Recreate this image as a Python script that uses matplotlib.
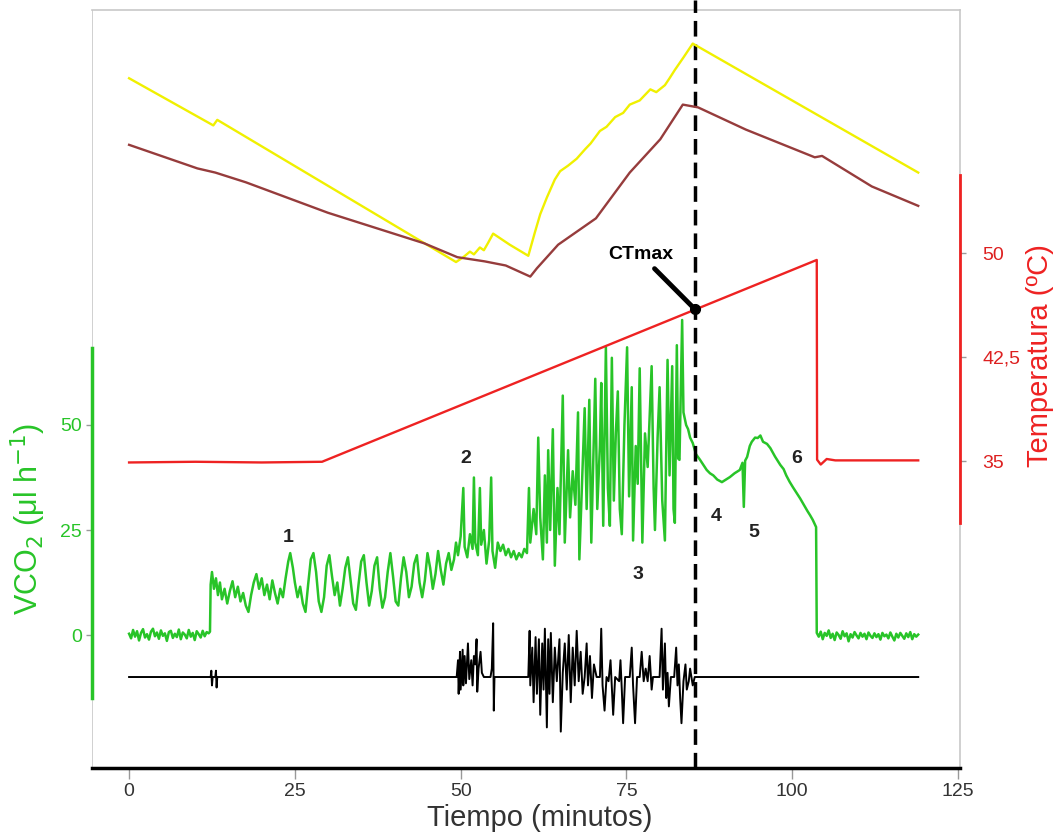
import matplotlib
matplotlib.use('Agg')
import matplotlib.pyplot as plt

plt.rcParams['font.family'] = ['Liberation Sans', 'DejaVu Sans']

# --- VCO2 trace (µl/h) ---
vco2_t = [0.0, 0.3, 0.6, 0.9, 1.2, 1.5, 1.8, 2.1, 2.4, 2.7, 3.0, 3.3, 3.6, 3.9, 4.2, 4.5, 4.8, 5.1,
          5.4, 5.7, 6.0, 6.3, 6.6, 6.9, 7.2, 7.5, 7.8, 8.1, 8.4, 8.7, 9.0, 9.3, 9.6, 9.9, 10.2, 10.5,
          10.8, 11.1, 11.4, 11.7, 12.0, 12.2,
          12.3, 12.5, 12.8, 13.1, 13.4, 13.7, 14.0, 14.4, 14.8, 15.2, 15.6, 16.0, 16.4, 16.8, 17.2,
          17.6, 18.0, 18.4, 18.8, 19.2, 19.6, 20.0, 20.4, 20.8, 21.2, 21.6, 22.0, 22.4, 22.8, 23.2,
          23.6, 24.0, 24.3, 24.7, 25.0, 25.4, 25.8, 26.2, 26.6, 27.0, 27.4, 27.8, 28.2, 28.6, 29.0,
          29.4, 29.8, 30.2, 30.6, 31.0, 31.4, 31.8, 32.2, 32.6, 33.0, 33.4, 33.8, 34.2, 34.6, 35.0,
          35.4, 35.8, 36.2, 36.6, 37.0, 37.4, 37.8, 38.2, 38.6, 39.0, 39.4, 39.8, 40.2, 40.6, 41.0,
          41.4, 41.8, 42.2, 42.6, 43.0, 43.4, 43.8, 44.2, 44.6, 45.0, 45.4, 45.8, 46.2, 46.6, 47.0,
          47.4, 47.8, 48.2, 48.6, 49.0, 49.3, 49.6, 50.0, 50.4, 50.6, 51.0, 51.4, 51.8, 52.0, 52.2,
          52.6, 52.9, 53.1, 53.5, 53.9, 54.3, 54.6, 54.8, 55.2, 55.6, 56.0, 56.4, 56.8, 57.2, 57.6,
          58.0, 58.4, 58.8, 59.2, 59.6, 60.0, 60.3, 60.5, 61.0, 61.4, 61.7, 62.0, 62.4, 62.7, 63.0,
          63.2, 63.5, 63.9, 64.2, 64.6, 64.9, 65.4, 65.7, 66.2, 66.5, 66.9, 67.3, 67.7, 67.9, 68.3,
          68.7, 69.0, 69.4, 69.7, 70.0, 70.3, 70.6, 71.0, 71.2, 71.5, 71.9, 72.2, 72.5, 72.8, 73.1,
          73.4, 73.7, 74.0, 74.3, 74.7, 75.1, 75.4, 75.8, 76.0, 76.4, 76.7, 77.0, 77.4, 77.8, 78.2,
          78.5, 78.8, 79.1, 79.3, 79.7, 80.0, 80.4, 80.8, 81.2, 81.5, 81.9, 82.1, 82.3, 82.6, 82.8,
          83.0, 83.4, 83.6, 84.0, 84.3, 84.6, 85.0, 85.5, 86.1, 86.6, 87.1, 87.6, 88.1, 88.7, 89.4,
          90.0, 90.6, 91.3, 92.1, 92.5, 92.7, 92.9, 93.2, 93.6, 93.9, 94.4, 94.8, 95.2, 95.6, 96.2,
          96.7, 97.4, 98.2, 98.7, 99.1, 99.6, 100.1, 100.8, 101.2, 101.6, 102.3, 102.7, 103.1, 103.6,
          103.7, 104.0, 104.3, 104.6, 104.9, 105.2, 105.5, 105.8, 106.1, 106.4, 106.7, 107.0, 107.3,
          107.6, 107.9, 108.2, 108.5, 108.8, 109.1, 109.4, 109.7, 110.0, 110.3, 110.6, 110.9, 111.2,
          111.5, 111.8, 112.1, 112.4, 112.7, 113.0, 113.3, 113.6, 113.9, 114.2, 114.5, 114.8, 115.1,
          115.4, 115.7, 116.0, 116.3, 116.6, 116.9, 117.2, 117.5, 117.8, 118.1, 118.4, 118.7, 119.0]
vco2_v = [0.3, -0.8, 1.2, -0.4, 0.9, -1.3, 0.5, 1.4, -0.6, 0.2, -1.1, 0.8, 1.5, -0.3, 0.6, -0.9, 1.1, -0.2,
          0.4, -1.4, 0.7, 1.0, -0.7, 0.3, -0.5, 1.3, -1.0, 0.6, 0.1, -0.8, 1.2, -0.4, 0.5, -1.2, 0.9, 0.2,
          -0.6, 1.0, -0.3, 0.7, 0.4, 0.8,
          12.0, 15.0, 11.0, 13.5, 9.5, 12.5, 8.5, 11.0, 7.5, 10.5, 12.8, 9.0, 11.5, 8.0, 10.0,
          7.0, 5.5, 9.5, 12.5, 14.5, 11.0, 13.5, 9.5, 12.0, 8.5, 13.0, 10.0, 7.5, 11.0, 9.0,
          13.5, 17.5, 19.5, 16.0, 12.5, 9.0, 11.5, 7.5, 5.5, 12.0, 18.0, 19.5, 15.0, 8.0, 5.5,
          9.0, 16.5, 19.0, 14.0, 9.5, 12.5, 7.0, 11.0, 16.0, 18.5, 13.0, 7.5, 6.0, 12.0, 17.5,
          19.0, 12.5, 7.0, 10.5, 16.5, 18.5, 11.0, 6.5, 9.0, 15.0, 19.5, 14.0, 8.0, 7.0, 13.5,
          18.5, 15.0, 9.0, 11.5, 17.0, 19.0, 12.5, 9.0, 13.0, 19.5, 16.0, 11.0, 14.5, 20.0, 15.5,
          12.0, 17.0, 19.5, 15.5, 18.0, 22.0, 19.0, 23.5, 35.0, 21.0, 18.5, 24.0, 20.5, 37.5, 22.0,
          19.0, 35.0, 21.5, 25.0, 17.0, 22.5, 37.5, 20.0, 16.0, 22.0, 20.0, 21.5, 19.0, 20.5, 18.5,
          20.0, 18.0, 19.5, 18.5, 20.5, 19.5, 35.0, 22.0, 30.0, 24.0, 47.0, 28.0, 18.0, 38.0, 22.0,
          44.0, 25.0, 49.0, 16.5, 35.0, 24.0, 57.0, 22.0, 44.0, 28.0, 39.0, 31.0, 53.0, 18.0, 36.0,
          54.0, 30.0, 56.0, 22.0, 42.0, 61.0, 30.0, 45.0, 60.0, 26.0, 68.5, 35.0, 26.0, 66.0, 32.0,
          48.0, 58.0, 30.0, 24.0, 50.0, 68.5, 33.0, 59.0, 22.5, 45.0, 36.0, 63.5, 22.0, 48.0, 40.0,
          52.0, 64.0, 35.0, 25.0, 47.0, 59.0, 32.0, 22.5, 65.5, 38.0, 64.0, 30.0, 26.7, 69.0, 42.0,
          41.7, 75.0, 53.0, 50.0, 49.0, 47.0, 45.7, 43.0, 41.7, 40.5, 39.3, 38.5, 38.0, 37.0, 36.4,
          37.0, 37.6, 38.5, 39.3, 41.0, 30.5, 41.5, 42.4, 45.0, 46.0, 47.0, 46.9, 47.5, 46.0, 45.5,
          44.5, 42.5, 40.5, 39.5, 38.0, 36.5, 35.2, 33.5, 32.5, 31.4, 29.5, 28.5, 27.4, 25.7,
          0.5, -0.4, 0.8, -1.0, 0.5, -0.2, 1.1, -0.7, 0.3, -1.2, 0.6, 0.0, -0.9,
          0.9, -0.3, 0.4, -1.5, 0.2, -0.6, 0.7, -0.1, -0.8, 0.5, -0.4, 0.3, -1.0,
          0.6, -0.2, -0.7, 0.4, -0.5, 0.2, -1.1, 0.5, -0.3, 0.1, -0.8, 0.6, -0.4,
          -1.3, 0.3, -0.6, 0.5, -0.2, -0.9, 0.4, -0.5, 0.7, -1.0, 0.2, -0.4, 0.1]

# --- activity trace (plotted on the VCO2 scale, baseline at -10) ---
act_t = [0.0, 12.3, 12.4, 12.5, 12.6, 13.0, 13.1, 13.2, 13.3, 49.4, 49.6, 49.7, 49.9, 50.0, 50.3,
         50.4, 50.6, 50.8, 51.1, 51.3, 51.6, 51.8, 52.0, 52.2, 52.4, 52.5, 52.7, 53.0, 53.2, 53.5,
         54.5, 54.7, 54.9, 55.0, 55.1, 60.2, 60.4, 60.5, 60.8, 61.0, 61.3, 61.5, 61.8, 62.0, 62.3,
         62.5, 62.7, 63.0, 63.2, 63.4, 63.6, 63.9, 64.2, 64.5, 64.9, 65.1, 65.4, 65.7, 66.0, 66.3,
         66.6, 66.9, 67.2, 67.5, 67.8, 68.1, 68.4, 68.7, 69.0, 69.2, 69.5, 69.8, 70.1, 70.5, 71.0,
         71.2, 71.4, 71.7, 72.0, 72.3, 72.6, 73.0, 73.3, 73.9, 74.1, 74.3, 74.5, 74.8, 75.5, 75.8,
         76.0, 76.3, 76.6, 77.0, 77.3, 77.6, 77.9, 78.2, 78.5, 78.8, 79.0, 80.0, 80.3, 80.5, 80.8,
         81.0, 81.2, 81.4, 81.7, 82.2, 82.5, 82.7, 82.9, 83.1, 83.3, 83.6, 83.9, 84.1, 84.4, 84.6,
         85.0, 85.3, 119.0]
act_v = [-10, -10, -8.5, -12, -10, -10, -8.5, -12.5, -10, -10, -6, -14, -4, -13, -3.5,
         -12, -5, -11.5, -2, -10.5, -6, -12, -5, -7, -1, -13.5, -8, -4, -9, -10,
         -10, -8, 2.8, -18, -10, -10, 1, -12, -3, -16, -0.5, -14, -1, -19, -2,
         -13, 1.5, -22, -1, -14, 0.5, -16, -3, -11, -1, -23, -9, -2, -13, 0,
         -16, -3, -12, 1, -11, -4, -14, -10, -2, -12, -5, -15, -7, -10, -10,
         1.5, -12, -18, -10, -11, -6, -19, -10, -11, -6, -13, -21, -10, -10, -3,
         -12, -21, -10, -10, -4, -11, -8, -11, -5, -13, -10, -10, 1.5, -13, -2,
         -15, -9, -17, -10, -10, -3, -12, -7, -15, -21, -11, -7, -13, -11, -8,
         -12, -10, -10]

# --- chamber temperature (°C) ---
temp_t = [0.0, 10.0, 20.0, 29.1, 103.7, 103.75, 104.3, 105.2, 106.5, 119.0]
temp_c = [34.9, 34.95, 34.9, 34.95, 49.5, 35.1, 34.75, 35.15, 35.05, 35.05]

# --- upper traces (yellow and brown), on the temperature scale ---
yellow_t = [0.0, 12.7, 13.3, 49.3, 50.4, 51.4, 52.0, 52.9, 53.5, 54.1, 54.9, 57.4, 60.2, 61.2,
            62.0, 63.0, 64.2, 65.0, 66.2, 67.5, 68.8, 69.6, 71.0, 72.0, 73.3, 74.5, 75.5, 77.0,
            78.6, 79.5, 80.8, 81.5, 82.3, 83.6, 85.0, 119.0]
yellow_c = [62.6, 59.2, 59.6, 49.35, 49.7, 50.1, 49.9, 50.4, 50.2, 50.7, 51.4, 50.6, 49.8, 51.5,
            52.8, 54.0, 55.3, 55.9, 56.3, 56.8, 57.5, 57.9, 58.8, 59.1, 59.8, 60.1, 60.7, 61.0,
            61.8, 61.6, 62.1, 62.6, 63.2, 64.1, 65.1, 55.8]
brown_t = [0.0, 10.3, 13.0, 17.6, 30.0, 44.5, 49.5, 53.6, 56.8, 60.5, 61.5, 64.7, 70.4, 75.5,
           80.1, 83.5, 85.8, 93.0, 103.4, 104.5, 112.0, 119.0]
brown_c = [57.8, 56.1, 55.8, 55.1, 52.9, 50.7, 49.7, 49.4, 49.1, 48.3, 48.9, 50.6, 52.5, 55.8,
           58.2, 60.7, 60.5, 58.9, 56.9, 57.0, 54.8, 53.4]

ctmax_t = 85.3
ctmax_c = 45.96
event_labels = ['1', '2', '3', '4', '5', '6']
event_t = [24.0, 50.7, 76.8, 88.5, 94.2, 100.6]
event_v = [23.1, 42.1, 14.3, 28.1, 24.3, 42.1]

GREEN = '#28c428'
RED = '#ee2222'

fig = plt.figure(figsize=(10.63, 8.34), dpi=100)
ax = fig.add_axes([0.0865, 0.0791, 0.8166, 0.9089])
ax_t = ax.twinx()

ax.set_xlim(-5.6, 125.3)
ax.set_ylim(-31.67, 148.8)
ax_t.set_ylim(12.87, 67.52)

ax.plot(vco2_t, vco2_v, color=GREEN, lw=1.8, zorder=3)
ax.plot(act_t, act_v, color='black', lw=1.4, zorder=3)
for lab, t, v in zip(event_labels, event_t, event_v):
    ax.text(t, v, lab, fontsize=14, fontweight='bold', color='#222222', ha='center', va='center')

ax_t.plot(yellow_t, yellow_c, color='#f0f000', lw=1.7)
ax_t.plot(brown_t, brown_c, color='#963c3c', lw=1.7)
ax_t.plot(temp_t, temp_c, color=RED, lw=1.7)

ax.axvline(ctmax_t, ymin=0, ymax=1.013, color='black', lw=2.5, dashes=(4.5, 2.3), clip_on=False, zorder=5)
ax_t.plot([ctmax_t], [ctmax_c], 'o', color='black', ms=7, zorder=6)
ax_t.annotate('CTmax', xy=(ctmax_t, ctmax_c), xytext=(77.1, 49.9), fontsize=14, fontweight='bold',
              ha='center', va='center',
              arrowprops=dict(arrowstyle='-', lw=3.5, color='black', shrinkA=3, shrinkB=0))

# frame and spines
ax.axvline(ax.get_xlim()[0], color='#c8c8c8', lw=1.2, zorder=1)
for s in ['top', 'right']:
    ax.spines[s].set_color('#c8c8c8')
    ax.spines[s].set_linewidth(1.2)
ax.spines['bottom'].set_color('black')
ax.spines['bottom'].set_linewidth(2.5)
ax.spines['left'].set_color(GREEN)
ax.spines['left'].set_linewidth(2.5)
ax.spines['left'].set_bounds(-15, 68.3)
for s in ['top', 'left', 'bottom']:
    ax_t.spines[s].set_visible(False)
ax_t.spines['right'].set_color(RED)
ax_t.spines['right'].set_linewidth(2.0)
ax_t.spines['right'].set_bounds(30.5, 55.6)

ax.set_xticks([0, 25, 50, 75, 100, 125])
ax.tick_params(axis='x', direction='out', length=8, width=1, color='#999999',
               labelsize=14, labelcolor='#333333', pad=3)
ax.set_yticks([0, 25, 50])
ax.tick_params(axis='y', direction='out', length=4, width=1, color='#999999',
               labelsize=14, labelcolor=GREEN, pad=3)
ax_t.set_yticks([35, 42.5, 50])
ax_t.set_yticklabels(['35', '42,5', '50'])
ax_t.tick_params(axis='y', direction='out', length=4, width=1, color='#999999',
                 labelsize=14, labelcolor='#dd2020', pad=12)

fig.text(0.508, 0.019, 'Tiempo (minutos)', fontsize=21, color='#333333', ha='center', va='center')
fig.text(0.0263, 0.378, r'VCO$_2$ ($\mathregular{\mu}$l h$^{-1}$)', fontsize=22, color=GREEN,
         rotation=90, ha='center', va='center')
fig.text(0.978, 0.574, 'Temperatura (ºC)', fontsize=21, color=RED, rotation=90, ha='center', va='center')

fig.savefig('out.png', dpi=100)
